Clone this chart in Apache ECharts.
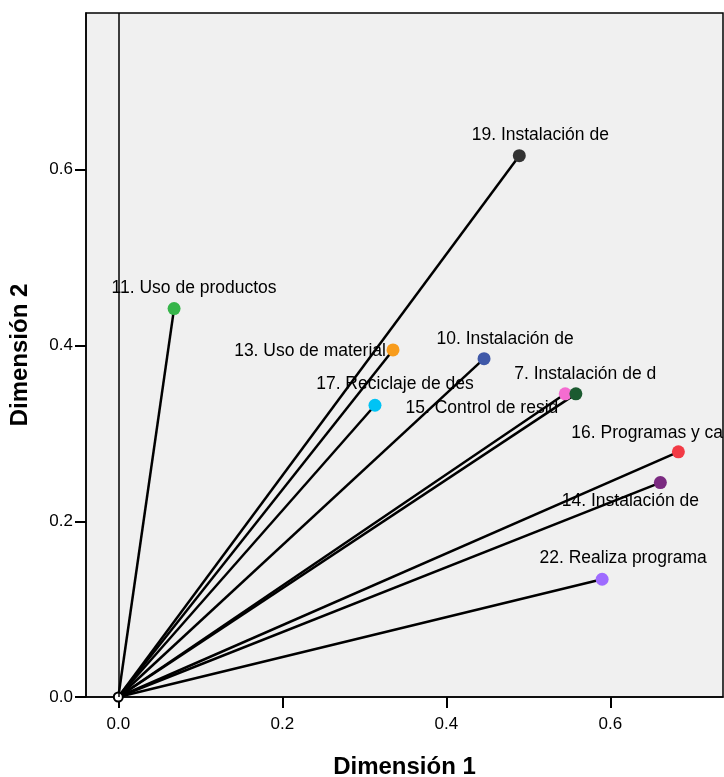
<!DOCTYPE html>
<html>
<head>
<meta charset="utf-8">
<script src="https://cdn.jsdelivr.net/npm/echarts@6/dist/echarts.min.js"></script>
<style>
  html, body { margin: 0; padding: 0; background: #fff; }
  #chart { width: 724px; height: 777px; }
</style>
</head>
<body>
<div id="chart"></div>
<script>
// variable labels (SPSS truncates to 20 chars)
var names = [
    '19. Instalación de',
    '11. Uso de productos',
    '13. Uso de material',
    '10. Instalación de',
    '17. Reciclaje de des',
    '7. Instalación de d',
    '15. Control de resid',
    '16. Programas y camp',
    '14. Instalación de',
    '22. Realiza programa'
];
// component loadings
var dim1 = [0.489, 0.068, 0.335, 0.446, 0.313, 0.545, 0.558, 0.683, 0.661, 0.590];
var dim2 = [0.616, 0.442, 0.395, 0.385, 0.332, 0.345, 0.345, 0.279, 0.244, 0.134];
var tickValues = [0, 0.2, 0.4, 0.6];

// styling per point
var colors = ['#333333', '#36b54a', '#f89c1c', '#3f58a8', '#00c3f5', '#f46cd0', '#1b5a30', '#f23a45', '#7a2a80', '#9e6bff'];
var labelOffsets = [[21, -21], [20, -20], [-83, 1], [21, -20], [20, -21], [20, -20], [-94, 14], [-19, -19], [-30, 19], [21, -21]];

var font = '"Liberation Sans", Arial, sans-serif';

var pointData = [];
var lineData = [];
for (var i = 0; i < names.length; i++) {
    pointData.push({
        name: names[i],
        value: [dim1[i], dim2[i]],
        itemStyle: { color: colors[i] },
        label: { offset: labelOffsets[i] }
    });
    lineData.push({ coords: [[0, 0], [dim1[i], dim2[i]]] });
}

var chart = echarts.init(document.getElementById('chart'));
chart.setOption({
    animation: false,
    grid: {
        left: 86, top: 13, right: 1, bottom: 80,
        outerBoundsMode: 'none',
        containLabel: false,
        show: true,
        backgroundColor: '#f0f0f0',
        borderColor: '#000',
        borderWidth: 1.5
    },
    xAxis: {
        type: 'value',
        min: -0.0394,
        max: 0.7374,
        name: 'Dimensión 1',
        nameLocation: 'middle',
        nameGap: 58,
        nameTextStyle: { fontFamily: font, fontSize: 24, fontWeight: 'bold', color: '#000' },
        axisLine: { show: true, onZero: false, lineStyle: { color: '#000', width: 1.5 } },
        axisTick: { show: true, length: 11, customValues: tickValues, lineStyle: { color: '#000', width: 2 } },
        axisLabel: {
            customValues: tickValues, margin: 19,
            fontFamily: font, fontSize: 17, color: '#000',
            formatter: function (v) { return v.toFixed(1); }
        },
        splitLine: { show: false }
    },
    yAxis: {
        type: 'value',
        min: 0,
        max: 0.7784,
        name: 'Dimensión 2',
        nameLocation: 'middle',
        nameGap: 54,
        nameRotate: 90,
        nameTextStyle: { fontFamily: font, fontSize: 24, fontWeight: 'bold', color: '#000' },
        axisLine: { show: true, onZero: false, lineStyle: { color: '#000', width: 1.5 } },
        axisTick: { show: true, length: 11, customValues: tickValues, lineStyle: { color: '#000', width: 2 } },
        axisLabel: {
            customValues: tickValues, margin: 13,
            fontFamily: font, fontSize: 17, color: '#000',
            formatter: function (v) { return v.toFixed(1); }
        },
        splitLine: { show: false }
    },
    series: [
        {
            type: 'lines',
            coordinateSystem: 'cartesian2d',
            data: lineData,
            lineStyle: { color: '#000', width: 2.5, opacity: 1 },
            z: 2,
            markLine: {
                silent: true,
                symbol: 'none',
                label: { show: false },
                lineStyle: { color: '#000', width: 1.5, type: 'solid', opacity: 1 },
                data: [{ xAxis: 0 }]
            }
        },
        {
            type: 'scatter',
            data: [[0, 0]],
            symbol: 'emptyCircle',
            symbolSize: 9,
            itemStyle: { color: '#000', borderColor: '#000', borderWidth: 2, opacity: 1 },
            z: 3
        },
        {
            type: 'scatter',
            data: pointData,
            symbolSize: 13,
            itemStyle: { opacity: 1 },
            z: 4,
            label: {
                show: true,
                position: 'inside',
                align: 'center',
                verticalAlign: 'middle',
                fontFamily: font,
                fontSize: 17.5,
                color: '#000',
                opacity: 1,
                formatter: function (p) { return p.name; }
            }
        }
    ]
});
</script>
</body>
</html>
